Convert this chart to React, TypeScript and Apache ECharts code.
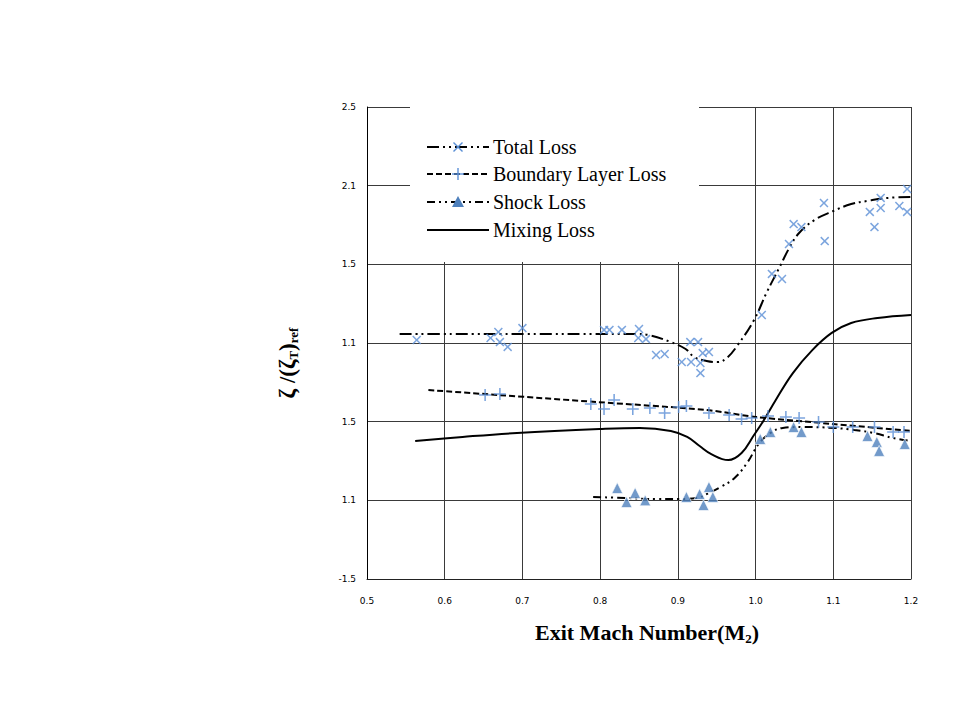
import React, { useEffect, useRef } from "react";
import * as echarts from "echarts";

// ---------- data ----------
const xTickLabels = ["0.5", "0.6", "0.7", "0.8", "0.9", "1.0", "1.1", "1.2"];
const yTickLabels = ["-1.5", "1.1", "1.5", "1.1", "1.5", "2.1", "2.5"]; // bottom -> top, as printed

const totalLossCurve: number[][] = [
  [0.542, 1.057], [0.609, 1.057], [0.703, 1.057], [0.808, 1.057], [0.847, 1.057],
  [0.862, 1.051], [0.891, 1.006], [0.910, 0.962], [0.921, 0.911], [0.937, 0.886],
  [0.951, 0.879], [0.963, 0.905], [0.977, 0.987], [0.998, 1.146], [1.014, 1.318],
  [1.031, 1.483], [1.044, 1.610], [1.056, 1.699], [1.076, 1.782], [1.100, 1.839],
  [1.123, 1.883], [1.144, 1.903], [1.170, 1.922], [1.200, 1.928],
];
const totalLossPoints: number[][] = [
  [0.564, 1.019], [0.659, 1.032], [0.669, 1.070], [0.671, 1.006], [0.681, 0.975],
  [0.700, 1.095], [0.805, 1.083], [0.812, 1.083], [0.828, 1.083], [0.850, 1.089],
  [0.849, 1.032], [0.859, 1.025], [0.872, 0.924], [0.883, 0.930], [0.916, 1.006],
  [0.926, 1.006], [0.905, 0.879], [0.917, 0.879], [0.929, 0.873], [0.932, 0.936],
  [0.940, 0.943], [0.929, 0.809], [1.008, 1.178], [1.021, 1.439], [1.034, 1.407],
  [1.043, 1.629], [1.049, 1.756], [1.059, 1.737], [1.088, 1.890], [1.089, 1.648],
  [1.147, 1.833], [1.153, 1.737], [1.161, 1.922], [1.161, 1.858], [1.185, 1.871],
  [1.195, 1.979], [1.195, 1.833],
];
const boundaryCurve: number[][] = [
  [0.579, 0.701], [0.795, 0.625], [0.937, 0.574], [1.0, 0.530], [1.1, 0.485], [1.2, 0.441],
];
const boundaryPoints: number[][] = [
  [0.652, 0.669], [0.671, 0.676], [0.788, 0.612], [0.805, 0.580], [0.818, 0.638],
  [0.842, 0.580], [0.864, 0.587], [0.883, 0.555], [0.901, 0.593], [0.911, 0.600],
  [0.940, 0.555], [0.966, 0.542], [0.982, 0.517], [0.995, 0.523], [1.016, 0.536],
  [1.039, 0.530], [1.056, 0.523], [1.081, 0.498], [1.100, 0.466], [1.125, 0.466],
  [1.153, 0.466], [1.177, 0.434], [1.191, 0.434],
];
const shockCurve: number[][] = [
  [0.791, 0.021], [0.834, 0.015], [0.874, 0.008], [0.900, 0.008], [0.924, 0.015],
  [0.940, 0.047], [0.955, 0.085], [0.973, 0.142], [0.989, 0.237], [1.004, 0.358],
  [1.019, 0.428], [1.035, 0.460], [1.060, 0.466], [1.101, 0.460], [1.127, 0.447],
  [1.152, 0.428], [1.177, 0.396], [1.200, 0.377],
];
const shockPoints: number[][] = [
  [0.822, 0.078], [0.834, -0.011], [0.845, 0.047], [0.858, 0.0], [0.911, 0.021],
  [0.928, 0.040], [0.933, -0.030], [0.940, 0.085], [0.945, 0.021], [1.006, 0.390],
  [1.019, 0.434], [1.049, 0.466], [1.059, 0.434], [1.144, 0.409], [1.156, 0.371],
  [1.159, 0.314], [1.192, 0.358],
];
const mixingCurve: number[][] = [
  [0.562, 0.377], [0.623, 0.403], [0.693, 0.428], [0.799, 0.453], [0.851, 0.460],
  [0.891, 0.441], [0.912, 0.403], [0.928, 0.345], [0.943, 0.294], [0.965, 0.256],
  [0.982, 0.301], [0.998, 0.415], [1.010, 0.504], [1.026, 0.638], [1.048, 0.809],
  [1.073, 0.955], [1.098, 1.064], [1.123, 1.127], [1.157, 1.159], [1.200, 1.178],
];
const legendNames = ["Total Loss", "Boundary Layer Loss", "Shock Loss", "Mixing Loss"];

// ---------- styles ----------
const X_PATH = "path://M0,1.2L1.2,0L5,3.8L8.8,0L10,1.2L6.2,5L10,8.8L8.8,10L5,6.2L1.2,10L0,8.8L3.8,5Z";
const PLUS_PATH = "path://M4.35,0H5.65V4.35H10V5.65H5.65V10H4.35V5.65H0V4.35H4.35Z";
const BLUE_LIGHT = "#5b8fd6";
const BLUE = "#4f81bd";
const DASH_TOTAL = [12, 4, 2, 4, 2, 4];
const DASH_BL = [6, 3];
const DASH_SHOCK = [8, 4, 2, 4, 2, 4];
const SERIF = "'Liberation Serif', 'DejaVu Serif', serif";
const GRID_COLOR = "#3a3a3a";

function buildLegend(): any[] {
  const els: any[] = [];
  els.push({
    type: "rect",
    shape: { x: 410, y: 104, width: 289, height: 158 },
    style: { fill: "#ffffff" },
    z: 50,
  });
  const rows = [147, 174, 202, 230];
  const x1 = 427, x2 = 489, mx = 458;
  const dashes: any[] = [DASH_TOTAL, DASH_BL, DASH_SHOCK, null];
  rows.forEach((y, i) => {
    els.push({
      type: "line",
      shape: { x1, y1: y, x2, y2: y },
      style: { stroke: "#000", lineWidth: 2, lineDash: dashes[i] || undefined },
      z: 51,
    });
    els.push({
      type: "text",
      x: 493,
      y: y,
      style: {
        text: legendNames[i],
        fontFamily: SERIF,
        fontSize: 20,
        fill: "#000",
        align: "left",
        verticalAlign: "middle",
      },
      z: 52,
    });
  });
  const r = 4.5;
  els.push({ type: "line", shape: { x1: mx - r, y1: rows[0] - r, x2: mx + r, y2: rows[0] + r }, style: { stroke: BLUE_LIGHT, lineWidth: 1.4 }, z: 53 });
  els.push({ type: "line", shape: { x1: mx - r, y1: rows[0] + r, x2: mx + r, y2: rows[0] - r }, style: { stroke: BLUE_LIGHT, lineWidth: 1.4 }, z: 53 });
  els.push({ type: "line", shape: { x1: mx - 6, y1: rows[1], x2: mx + 6, y2: rows[1] }, style: { stroke: BLUE_LIGHT, lineWidth: 1.4 }, z: 53 });
  els.push({ type: "line", shape: { x1: mx, y1: rows[1] - 6, x2: mx, y2: rows[1] + 6 }, style: { stroke: BLUE_LIGHT, lineWidth: 1.4 }, z: 53 });
  els.push({
    type: "polygon",
    shape: { points: [[mx, rows[2] - 6], [mx + 6, rows[2] + 5], [mx - 6, rows[2] + 5]] },
    style: { fill: BLUE },
    z: 53,
  });
  return els;
}

export default function App() {
  const ref = useRef<HTMLDivElement>(null);
  useEffect(() => {
    document.body.style.margin = "0";
    if (!ref.current) return;
    const chart = echarts.init(ref.current, undefined, { renderer: "svg" });
    const option: any = {
      animation: false,
      backgroundColor: "#ffffff",
      grid: { left: 367, right: 49, top: 107, bottom: 141, containLabel: false },
      xAxis: {
        type: "value",
        min: 0.5,
        max: 1.2,
        interval: 0.1,
        axisLine: { show: true, onZero: false, lineStyle: { color: "#222", width: 1 } },
        axisTick: { show: false },
        splitLine: { show: true, lineStyle: { color: GRID_COLOR, width: 1 } },
        axisLabel: {
          margin: 17,
          fontFamily: "'DejaVu Sans', sans-serif",
          fontSize: 9,
          color: "#000",
          formatter: (v: number) => xTickLabels[Math.round((v - 0.5) / 0.1)] ?? "",
        },
      },
      yAxis: {
        type: "value",
        min: -0.5,
        max: 2.5,
        interval: 0.5,
        axisLine: { show: true, onZero: false, lineStyle: { color: "#000", width: 1 } },
        axisTick: { show: false },
        splitLine: { show: true, lineStyle: { color: GRID_COLOR, width: 1 } },
        axisLabel: {
          margin: 11,
          fontFamily: "'DejaVu Sans', sans-serif",
          fontSize: 9,
          color: "#000",
          formatter: (v: number) => yTickLabels[Math.round((v + 0.5) / 0.5)] ?? "",
        },
      },
      series: [
        {
          name: "Total Loss curve",
          type: "line",
          data: totalLossCurve,
          smooth: 0.4,
          symbol: "none",
          lineStyle: { color: "#000", width: 2, type: DASH_TOTAL },
          z: 2,
        },
        {
          name: "Boundary Layer Loss curve",
          type: "line",
          data: boundaryCurve,
          smooth: 0.3,
          symbol: "none",
          lineStyle: { color: "#000", width: 2, type: DASH_BL },
          z: 2,
        },
        {
          name: "Shock Loss curve",
          type: "line",
          data: shockCurve,
          smooth: 0.4,
          symbol: "none",
          lineStyle: { color: "#000", width: 2, type: DASH_SHOCK },
          z: 2,
        },
        {
          name: "Mixing Loss",
          type: "line",
          data: mixingCurve,
          smooth: 0.4,
          symbol: "none",
          lineStyle: { color: "#000", width: 2 },
          z: 2,
        },
        {
          name: "Total Loss",
          type: "scatter",
          data: totalLossPoints,
          symbol: X_PATH,
          symbolSize: 9,
          itemStyle: { color: BLUE_LIGHT },
          z: 4,
        },
        {
          name: "Boundary Layer Loss",
          type: "scatter",
          data: boundaryPoints,
          symbol: PLUS_PATH,
          symbolSize: 12,
          itemStyle: { color: BLUE_LIGHT },
          z: 4,
        },
        {
          name: "Shock Loss",
          type: "scatter",
          data: shockPoints,
          symbol: "triangle",
          symbolSize: 11,
          itemStyle: { color: BLUE, borderColor: "#ffffff", borderWidth: 0.8 },
          z: 4,
        },
      ],
      graphic: [
        ...buildLegend(),
        {
          type: "text",
          x: 647,
          y: 632,
          style: {
            text: "{a|Exit Mach Number(M}{s|2}{a|)}",
            align: "center",
            verticalAlign: "middle",
            rich: {
              a: { fontFamily: SERIF, fontSize: 22, fontWeight: "bold", fill: "#000", lineHeight: 26 },
              s: { fontFamily: SERIF, fontSize: 13, fontWeight: "bold", fill: "#000", lineHeight: 12, verticalAlign: "bottom" },
            },
          },
          z: 60,
        },
        {
          type: "text",
          x: 287,
          y: 363,
          rotation: Math.PI / 2,
          style: {
            text: "{a|ζ /(ζ}{s|T}{a|)}{s|ref}",
            align: "center",
            verticalAlign: "middle",
            rich: {
              a: { fontFamily: SERIF, fontSize: 23, fontWeight: "bold", fill: "#000", lineHeight: 26 },
              s: { fontFamily: SERIF, fontSize: 13, fontWeight: "bold", fill: "#000", lineHeight: 12, verticalAlign: "bottom" },
            },
          },
          z: 60,
        },
      ],
    };
    chart.setOption(option);
    return () => chart.dispose();
  }, []);
  return <div ref={ref} style={{ width: 960, height: 720 }} />;
}
